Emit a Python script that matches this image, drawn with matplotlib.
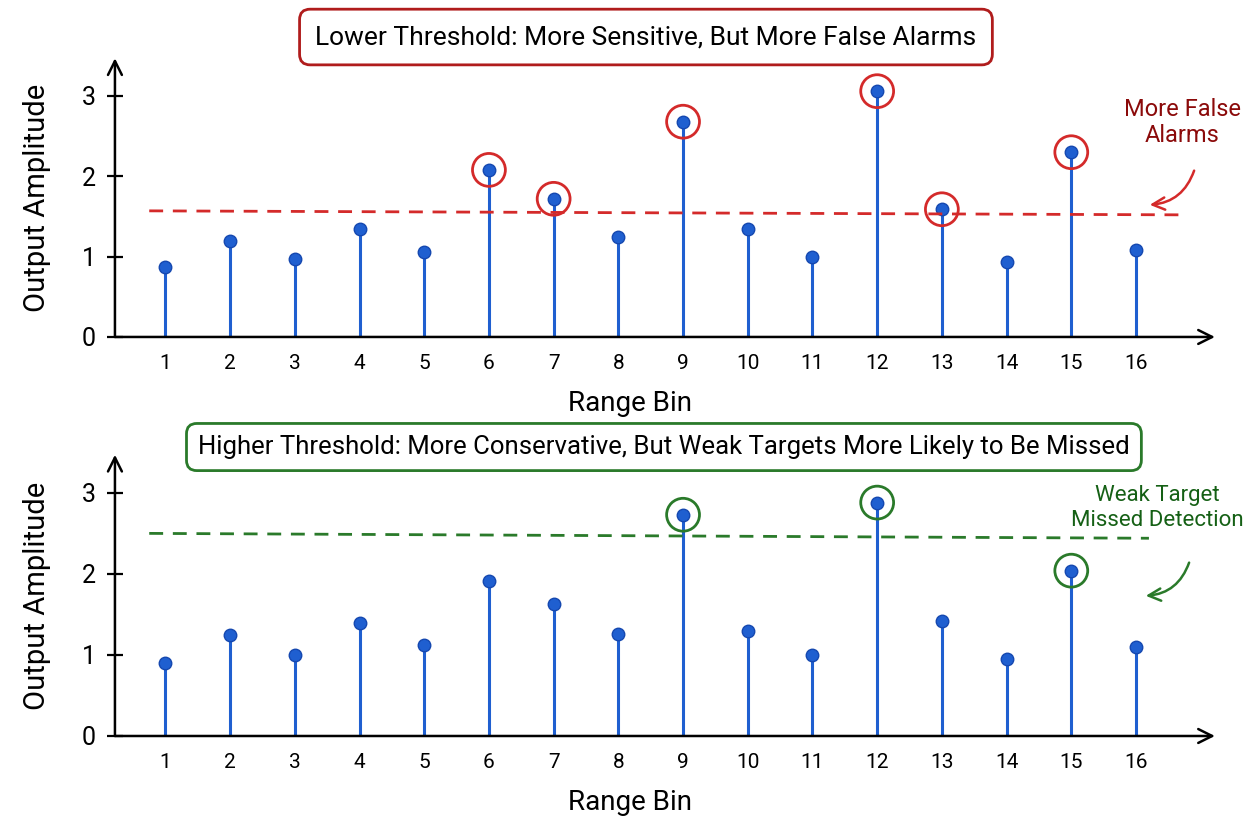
import matplotlib
matplotlib.use("Agg")
import matplotlib.pyplot as plt
import numpy as np

plt.rcParams['font.family'] = ['Roboto', 'DejaVu Sans']

bins = list(range(1, 17))
amp_low = [0.87, 1.20, 0.97, 1.35, 1.06, 2.08, 1.72, 1.24, 2.68, 1.35, 1.00, 3.06, 1.59, 0.93, 2.30, 1.08]
amp_high = [0.90, 1.24, 1.00, 1.39, 1.12, 1.91, 1.63, 1.26, 2.73, 1.29, 1.00, 2.88, 1.42, 0.95, 2.04, 1.10]
thr_low = [1.57, 1.52]
thr_high = [2.50, 2.44]
circled_low = [6, 7, 9, 12, 13, 15]
circled_high = [9, 12, 15]
yticks = [0, 1, 2, 3]

title_low = "Lower Threshold: More Sensitive, But More False Alarms"
title_high = "Higher Threshold: More Conservative, But Weak Targets More Likely to Be Missed"
note_low = "More False\nAlarms"
note_high = "Weak Target\nMissed Detection"

BLUE = "#1f5fd0"
RED = "#d42a2a"
DRED = "#8b0a0a"
GREEN = "#2a7a2a"
DGREEN = "#156015"

fig = plt.figure(figsize=(12.48, 8.32), dpi=100)
fig.patch.set_facecolor("white")

ax1 = fig.add_axes([0.0921, 0.595, 0.8814, 0.335])
ax2 = fig.add_axes([0.0921, 0.1154, 0.8814, 0.338])


def draw(ax, amp, thr, circled, ccolor, thr_x):
    ax.set_xlim(0.22, 17.22)
    ax.set_ylim(0, 3.47)
    for s in ax.spines.values():
        s.set_visible(False)
    ax.annotate('', xy=(1, 0), xytext=(0, 0), xycoords='axes fraction',
                arrowprops=dict(arrowstyle='->', lw=1.8, color='black',
                                mutation_scale=25, shrinkA=0, shrinkB=0))
    ax.annotate('', xy=(0, 1), xytext=(0, 0), xycoords='axes fraction',
                arrowprops=dict(arrowstyle='->', lw=1.8, color='black',
                                mutation_scale=25, shrinkA=0, shrinkB=0))
    ml, sl, bl = ax.stem(bins, amp, linefmt='-', markerfmt='o', basefmt=' ')
    plt.setp(sl, color=BLUE, linewidth=2.2)
    plt.setp(ml, color=BLUE, markersize=9, markeredgecolor="#1548b0", markeredgewidth=1)
    ax.plot(thr_x, thr, linestyle=(0, (5, 3.5)), color=ccolor, lw=2)
    cx = [b for b in circled]
    cy = [amp[b - 1] for b in circled]
    ax.scatter(cx, cy, s=560, facecolors='none', edgecolors=ccolor, linewidths=2, zorder=5)
    ax.set_xticks(bins)
    ax.set_xticklabels([str(b) for b in bins], fontsize=15)
    ax.tick_params(axis='x', length=0, pad=12)
    ax.set_yticks(yticks)
    ax.set_yticklabels([str(t) for t in yticks], fontsize=18)
    ax.tick_params(axis='y', direction='inout', length=12, width=1.6, pad=8)
    ax.set_xlabel("Range Bin", fontsize=20)
    ax.xaxis.set_label_coords(0.468, -0.19)
    ax.set_ylabel("Output Amplitude", fontsize=21)
    ax.yaxis.set_label_coords(-0.058, 0.5)


draw(ax1, amp_low, thr_low, circled_low, RED, [0.75, 16.8])
draw(ax2, amp_high, thr_high, circled_high, GREEN, [0.75, 16.2])

fig.text(0.5176, 0.9555, title_low, ha='center', va='center', fontsize=19,
         bbox=dict(boxstyle='round,pad=0.6,rounding_size=0.4', fc='white', ec="#b01c1c", lw=2))
fig.text(0.532, 0.4627, title_high, ha='center', va='center', fontsize=18.5,
         bbox=dict(boxstyle='round,pad=0.45,rounding_size=0.4', fc='white', ec=GREEN, lw=2))

fig.text(1182 / 1248, 0.853, note_low, ha='center', va='center', fontsize=17, color=DRED,
         linespacing=1.2, multialignment='center')
fig.text(1244 / 1248, 0.389, note_high, ha='right', va='center', fontsize=16, color=DGREEN,
         linespacing=1.25, multialignment='center')

fig.add_artist(matplotlib.patches.FancyArrowPatch(
    (1195 / 1248, 1 - 168 / 832), (1147 / 1248, 1 - 205 / 832), transform=fig.transFigure,
    connectionstyle='arc3,rad=-0.35', arrowstyle='->', mutation_scale=22, lw=1.8, color=RED))
fig.add_artist(matplotlib.patches.FancyArrowPatch(
    (1190 / 1248, 1 - 560 / 832), (1143 / 1248, 1 - 596 / 832), transform=fig.transFigure,
    connectionstyle='arc3,rad=-0.35', arrowstyle='->', mutation_scale=22, lw=1.8, color=GREEN))

fig.savefig("out.png", dpi=100, facecolor="white")
